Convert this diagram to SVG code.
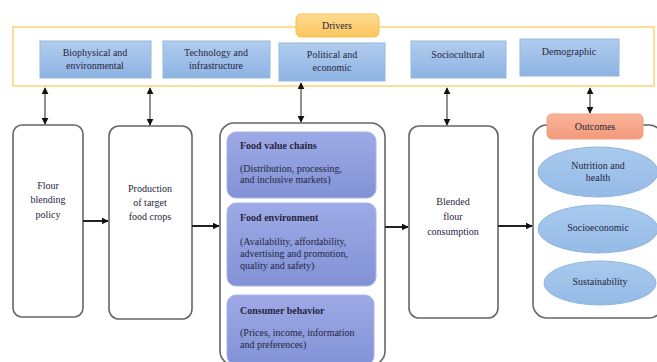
<svg xmlns="http://www.w3.org/2000/svg" width="657" height="362" viewBox="0 0 657 362">
<defs>
<linearGradient id="gBlue" x1="0" y1="0" x2="0" y2="1"><stop offset="0" stop-color="#b1cdee"/><stop offset="1" stop-color="#8db2e2"/></linearGradient>
<linearGradient id="gPurp" x1="0" y1="0" x2="0" y2="1"><stop offset="0" stop-color="#9eaae6"/><stop offset="1" stop-color="#8292d6"/></linearGradient>
<linearGradient id="gOrange" x1="0" y1="0" x2="0" y2="1"><stop offset="0" stop-color="#fedb92"/><stop offset="1" stop-color="#fbc55b"/></linearGradient>
<linearGradient id="gSalmon" x1="0" y1="0" x2="0" y2="1"><stop offset="0" stop-color="#f9b49a"/><stop offset="1" stop-color="#f3997a"/></linearGradient>
<linearGradient id="gEll" x1="0" y1="0" x2="0" y2="1"><stop offset="0" stop-color="#a9caee"/><stop offset="1" stop-color="#94bae6"/></linearGradient>
<marker id="ah" viewBox="0 0 10 10" refX="9" refY="5" markerWidth="7" markerHeight="7" orient="auto-start-reverse" markerUnits="userSpaceOnUse"><path d="M0,0 L10,5 L0,10 z" fill="#111"/></marker>
<marker id="ah2" viewBox="0 0 10 10" refX="9" refY="5" markerWidth="7" markerHeight="7" orient="auto" markerUnits="userSpaceOnUse"><path d="M0,0 L10,5 L0,10 z" fill="#111"/></marker>
</defs>
<style>
text{font-family:"Liberation Serif","Times New Roman",serif;fill:#262640;font-size:10px}
.c{text-anchor:middle}
.b{font-weight:bold}
.box{fill:#fff;stroke:#666;stroke-width:1.6}
.drv{fill:url(#gBlue);stroke:#93b8e2;stroke-width:1}
.inner{fill:url(#gPurp);stroke:#a9b4e8;stroke-width:1}
.ell{fill:url(#gEll);stroke:#8fb5e0;stroke-width:1}
.v{stroke:#222;stroke-width:1;fill:none;marker-start:url(#ah);marker-end:url(#ah)}
.h{stroke:#222;stroke-width:2;fill:none;marker-end:url(#ah2)}
</style>

<g id="drivers">
<rect x="13" y="27" width="641" height="59" fill="#fff" stroke="#fdd67e" stroke-width="1.6"/>
<rect x="296" y="14" width="83" height="23" rx="5" fill="url(#gOrange)" stroke="#f8bf4f" stroke-width="1"/>
<text class="c" x="337" y="29">Drivers</text>
</g>
<g id="biophysical">
<rect class="drv" x="40" y="41" width="111" height="37"/>
<text class="c" x="95" y="56">Biophysical and</text>
<text class="c" x="95" y="69">environmental</text>
</g>
<g id="technology">
<rect class="drv" x="163" y="41" width="107" height="37"/>
<text class="c" x="216" y="56">Technology and</text>
<text class="c" x="216" y="69">infrastructure</text>
</g>
<g id="political">
<rect class="drv" x="279" y="43" width="106" height="38"/>
<text class="c" x="332" y="58">Political and</text>
<text class="c" x="332" y="71">economic</text>
</g>
<g id="sociocultural">
<rect class="drv" x="411" y="41" width="95" height="37"/>
<text class="c" x="458" y="58">Sociocultural</text>
</g>
<g id="demographic">
<rect class="drv" x="520" y="39" width="99" height="37"/>
<text class="c" x="569" y="55">Demographic</text>
</g>

<g id="policy">
<rect class="box" x="13" y="125" width="70" height="192" rx="9"/>
<text class="c" x="48" y="189">Flour</text>
<text class="c" x="48" y="203">blending</text>
<text class="c" x="48" y="218">policy</text>
</g>
<g id="production">
<rect class="box" x="109" y="126" width="83" height="193" rx="10"/>
<text class="c" x="150" y="192">Production</text>
<text class="c" x="150" y="206">of target</text>
<text class="c" x="150" y="220">food crops</text>
</g>
<g id="foodsystem">
<rect class="box" x="220" y="123" width="165" height="242" rx="14"/>
<rect class="inner" x="227" y="132" width="149" height="66" rx="9"/>
<text class="b" x="240" y="149">Food value chains</text>
<text x="240" y="172">(Distribution, processing,</text>
<text x="240" y="183">and inclusive markets)</text>
<rect class="inner" x="227" y="203" width="149" height="83" rx="9"/>
<text class="b" x="240" y="221">Food environment</text>
<text x="240" y="245">(Availability, affordability,</text>
<text x="240" y="257">advertising and promotion,</text>
<text x="240" y="269">quality and safety)</text>
<rect class="inner" x="227" y="295" width="147" height="70" rx="9"/>
<text class="b" x="240" y="314">Consumer behavior</text>
<text x="240" y="336">(Prices, income, information</text>
<text x="240" y="348">and preferences)</text>
</g>
<g id="consumption">
<rect class="box" x="409" y="126" width="89" height="192" rx="10"/>
<text class="c" x="453" y="205">Blended</text>
<text class="c" x="453" y="220">flour</text>
<text class="c" x="453" y="235">consumption</text>
</g>
<g id="outcomes">
<rect class="box" x="533" y="125" width="130" height="193" rx="14"/>
<rect x="547" y="114" width="96" height="25" rx="5" fill="url(#gSalmon)" stroke="#f2a183" stroke-width="1"/>
<text class="c" x="595" y="130">Outcomes</text>
<ellipse class="ell" cx="598" cy="172" rx="60" ry="25"/>
<text class="c" x="598" y="169">Nutrition and</text>
<text class="c" x="598" y="181">health</text>
<ellipse class="ell" cx="598" cy="229" rx="60" ry="24"/>
<text class="c" x="598" y="231">Socioeconomic</text>
<ellipse class="ell" cx="600" cy="283" rx="56" ry="22"/>
<text class="c" x="600" y="285">Sustainability</text>
</g>

<g id="connectors">
<line class="v" x1="45" y1="88" x2="45" y2="124"/>
<line class="v" x1="150" y1="88" x2="150" y2="125"/>
<line class="v" x1="301" y1="83" x2="301" y2="122"/>
<line class="v" x1="447" y1="88" x2="447" y2="125"/>
<line class="v" x1="590" y1="88" x2="590" y2="113"/>
<line class="h" x1="83" y1="221" x2="108" y2="221"/>
<line class="h" x1="192" y1="226" x2="219" y2="226"/>
<line class="h" x1="385" y1="227" x2="408" y2="227"/>
<line class="h" x1="498" y1="226" x2="532" y2="226"/>
</g>
</svg>
